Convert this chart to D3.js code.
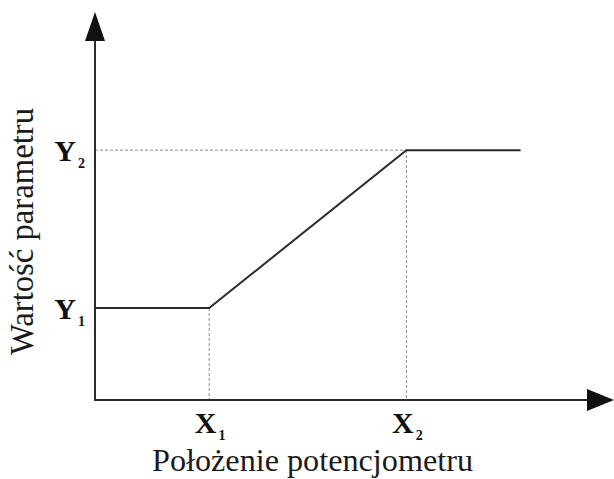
<!DOCTYPE html>
<html>
<head>
<meta charset="utf-8">
<script src="https://cdn.jsdelivr.net/npm/d3@7"></script>
<style>
  html, body { margin: 0; padding: 0; background: #fff; }
  svg { display: block; }
</style>
</head>
<body>
<script>
// Characteristic: parameter value vs. potentiometer position
const xPoints = [0, 2.2, 6.0, 8.2];      // potentiometer position
const yPoints = [2.37, 2.37, 6.44, 6.44]; // parameter value
const xTicks = [{ v: 2.2, main: "X", sub: "1" }, { v: 6.0, main: "X", sub: "2" }];
const yTicks = [{ v: 2.37, main: "Y", sub: "1" }, { v: 6.44, main: "Y", sub: "2" }];
const xTitle = "Położenie potencjometru";
const yTitle = "Wartość parametru";

const W = 614, H = 479;
const x = d3.scaleLinear().domain([0, 10]).range([95, 614]);
const y = d3.scaleLinear().domain([0, 10]).range([400, 12]);

const svg = d3.select("body").append("svg").attr("width", W).attr("height", H);

const ink = "#2b2b2b";
const serif = "Liberation Serif, DejaVu Serif, serif";

// guide lines
const guides = svg.append("g")
  .attr("stroke", "#8a8a8a").attr("stroke-width", 1).attr("stroke-dasharray", "3,2").attr("fill", "none");
xTicks.forEach(t => {
  const yv = yPoints[xPoints.indexOf(t.v)];
  guides.append("line").attr("x1", x(t.v)).attr("x2", x(t.v)).attr("y1", y(yv)).attr("y2", y(0));
});
// upper level dashed back to the y axis
guides.append("line").attr("x1", x(0)).attr("x2", x(6.0)).attr("y1", y(6.44)).attr("y2", y(6.44));

// axes
svg.append("line").attr("x1", x(0)).attr("x2", x(0)).attr("y1", y(0)).attr("y2", y(9.3))
  .attr("stroke", ink).attr("stroke-width", 2);
svg.append("line").attr("x1", x(0) - 1).attr("x2", x(9.6)).attr("y1", y(0)).attr("y2", y(0))
  .attr("stroke", ink).attr("stroke-width", 2);
// arrowheads
const tipY = [x(0), y(10)];
svg.append("path")
  .attr("d", `M${tipY[0]},${tipY[1]} L${tipY[0] - 10},${tipY[1] + 29} L${tipY[0] + 10},${tipY[1] + 29} Z`)
  .attr("fill", "#111");
const tipX = [x(10), y(0)];
svg.append("path")
  .attr("d", `M${tipX[0]},${tipX[1]} L${tipX[0] - 27},${tipX[1] - 11} L${tipX[0] - 27},${tipX[1] + 11} Z`)
  .attr("fill", "#111");

// characteristic curve
svg.append("path")
  .datum(xPoints.map((v, i) => [v, yPoints[i]]))
  .attr("d", d3.line().x(d => x(d[0])).y(d => y(d[1])))
  .attr("fill", "none").attr("stroke", ink).attr("stroke-width", 2).attr("stroke-linejoin", "miter");

// tick labels
function label(el, t) {
  el.append("tspan").attr("font-size", "30px").attr("font-weight", "bold").text(t.main);
  el.append("tspan").attr("font-size", "14px").attr("font-weight", "bold").attr("dx", 2).attr("dy", 7).text(t.sub);
}
xTicks.forEach(t => {
  const tx = svg.append("text").attr("x", x(t.v) + 1).attr("y", 433)
    .attr("text-anchor", "middle").style("font-family", serif).attr("fill", "#111");
  label(tx, t);
});
yTicks.forEach(t => {
  const tx = svg.append("text").attr("x", 85).attr("y", y(t.v) + 11)
    .attr("text-anchor", "end").style("font-family", serif).attr("fill", "#111");
  label(tx, t);
});

// axis titles
svg.append("text").attr("x", 312.5).attr("y", 471).attr("text-anchor", "middle")
  .style("font-family", serif).attr("font-size", "31px").attr("fill", "#1a1a1a")
  .attr("textLength", 321).attr("lengthAdjust", "spacingAndGlyphs").text(xTitle);
svg.append("text").attr("transform", "translate(33,231.5) rotate(-90)").attr("text-anchor", "middle")
  .style("font-family", serif).attr("font-size", "33px").attr("fill", "#1a1a1a")
  .attr("textLength", 247).attr("lengthAdjust", "spacingAndGlyphs").text(yTitle);
</script>
</body>
</html>
